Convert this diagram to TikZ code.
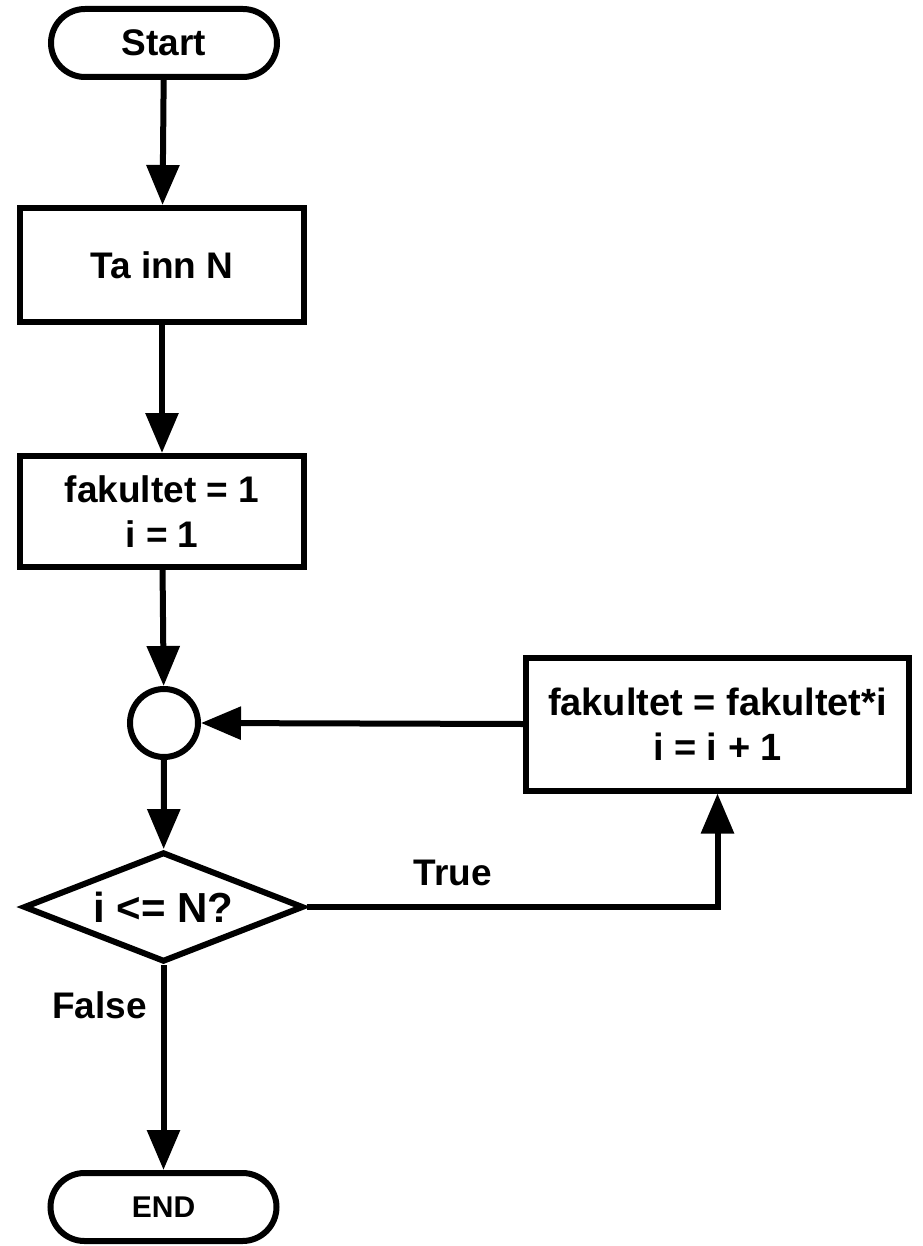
\documentclass[tikz,border=0pt]{standalone}
\usepackage{fontspec}
\setmainfont{Liberation Sans}
\usetikzlibrary{arrows.meta,shapes.geometric}
\begin{document}
\begin{tikzpicture}[x=1pt,y=-1pt,
  every node/.style={font=\bfseries},
  shapeline/.style={draw=black, line width=6pt, fill=white, inner sep=0pt, align=center},
  terminal/.style={shapeline, rectangle, rounded corners=34pt, minimum width=226pt, minimum height=68pt, font=\bfseries\fontsize{37}{44}\selectfont},
  procbox/.style={shapeline, rectangle, font=\bfseries\fontsize{37}{45}\selectfont},
  joint/.style={shapeline, circle, minimum size=68pt},
  decision/.style={shapeline, diamond, shape aspect=2.47, minimum width=280pt, minimum height=110pt, font=\bfseries\fontsize{42}{48}\selectfont},
  flow/.style={line width=6pt, -{Triangle[length=40pt,width=32pt]}},
  lbl/.style={font=\bfseries\fontsize{37}{44}\selectfont, anchor=base, inner sep=0pt}
]
\useasboundingbox (0,0) rectangle (922,1246);
\node[terminal] (start) at (164,43) {Start};
\node[procbox, minimum width=284pt, minimum height=114pt] (tain) at (162,265) {Ta inn N};
\node[procbox, minimum width=284pt, minimum height=111pt] (init) at (162,511.5) {fakultet = 1\\i = 1};
\node[joint] (circ) at (164,723) {};
\node[procbox, minimum width=383pt, minimum height=133pt, font=\bfseries\fontsize{38}{45}\selectfont] (rbox) at (717.5,724) {fakultet = fakultet*i\\i = i + 1};
\node[decision] (dec) at (163.5,907) {i <= N?};
\node[terminal, font=\bfseries\fontsize{30}{36}\selectfont] (end) at (163.5,1207) {END};
\draw[flow] (start) -- (tain);
\draw[flow] (tain) -- (init);
\draw[flow] (init) -- (circ);
\draw[flow] (rbox.west) -- (circ.east);
\draw[flow] (circ) -- (dec);
\draw[flow] (dec.east) -| (rbox.south);
\draw[flow] (dec.south) -- (end.north);
\node[lbl] (truelbl) at (452.5,885) {True};
\node[lbl] (falselbl) at (99.5,1018) {False};
\end{tikzpicture}
\end{document}
